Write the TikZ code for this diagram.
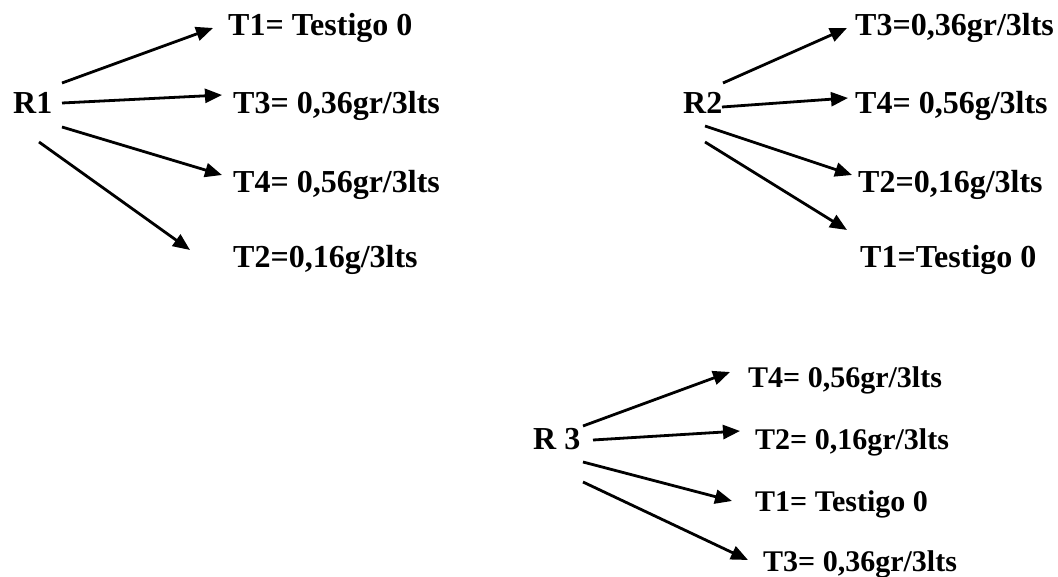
\documentclass[tikz,border=0pt]{standalone}
\usepackage{fontspec}
\setmainfont{Liberation Serif}
\usetikzlibrary{arrows.meta}
\begin{document}
\begin{tikzpicture}[x=1pt,y=-1pt,
  lbl/.style={anchor=base west,inner sep=0pt,font=\fontsize{32}{38}\selectfont\bfseries},
  lblb/.style={anchor=base west,inner sep=0pt,font=\fontsize{30}{36}\selectfont\bfseries},
  arr/.style={line width=2.8pt,-{Triangle[length=17pt,width=14pt]}}]
\useasboundingbox (0,0) rectangle (1058,577);
% group 1
\node[lbl] (r1) at (13,114) {R1};
\node[lbl] (g1t1) at (228,36) {T1= Testigo 0};
\node[lbl] (g1t3) at (233,114) {T3= 0,36gr/3lts};
\node[lbl] (g1t4) at (233,193) {T4= 0,56gr/3lts};
\node[lbl] (g1t2) at (233,268) {T2=0,16g/3lts};
\draw[arr] ([shift={(49,-31)}]r1.base west) -- ([shift={(-15,-8)}]g1t1.base west);
\draw[arr] ([shift={(49,-11)}]r1.base west) -- ([shift={(-11,-19)}]g1t3.base west);
\draw[arr] ([shift={(49,13)}]r1.base west) -- ([shift={(-11,-18)}]g1t4.base west);
\draw[arr] ([shift={(26,28)}]r1.base west) -- ([shift={(-43,-18)}]g1t2.base west);
% group 2
\node[lbl] (r2) at (683,114) {R2};
\node[lbl] (g2t3) at (855,36) {T3=0,36gr/3lts};
\node[lbl] (g2t4) at (855,114) {T4= 0,56g/3lts};
\node[lbl] (g2t2) at (858,193) {T2=0,16g/3lts};
\node[lbl] (g2t1) at (860,268) {T1=Testigo 0};
\draw[arr] ([shift={(40,-31)}]r2.base west) -- ([shift={(-8,-8)}]g2t3.base west);
\draw[arr] ([shift={(39,-7)}]r2.base west) -- ([shift={(-7,-16)}]g2t4.base west);
\draw[arr] ([shift={(22,12)}]r2.base west) -- ([shift={(-6,-18)}]g2t2.base west);
\draw[arr] ([shift={(22,28)}]r2.base west) -- ([shift={(-13,-38)}]g2t1.base west);
% group 3
\node[lbl] (r3) at (533,449) {R 3};
\node[lblb] (g3t4) at (748,388) {T4= 0,56gr/3lts};
\node[lblb] (g3t2) at (755,449) {T2= 0,16gr/3lts};
\node[lblb] (g3t1) at (755,511) {T1= Testigo 0};
\node[lblb] (g3t3) at (763,571) {T3= 0,36gr/3lts};
\draw[arr] ([shift={(50,-23)}]r3.base west) -- ([shift={(-18,-16)}]g3t4.base west);
\draw[arr] ([shift={(60,-9)}]r3.base west) -- ([shift={(-15,-18)}]g3t2.base west);
\draw[arr] ([shift={(50,13)}]r3.base west) -- ([shift={(-23,-10)}]g3t1.base west);
\draw[arr] ([shift={(50,33)}]r3.base west) -- ([shift={(-15,-11)}]g3t3.base west);
\end{tikzpicture}
\end{document}
